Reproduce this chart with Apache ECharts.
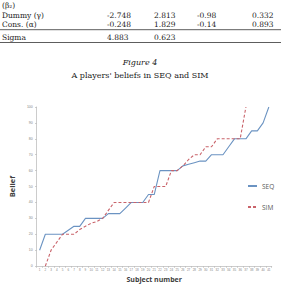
<!DOCTYPE html>
<html>
<head>
<meta charset="utf-8">
<script src="https://cdn.jsdelivr.net/npm/echarts@6/dist/echarts.min.js"></script>
<style>
  html, body { margin: 0; padding: 0; background: #fff; }
  #chart { width: 281px; height: 288px; }
</style>
</head>
<body>
<div id="chart"></div>
<script>
// subjects on the x axis
const subjects = ['1','2','3','4','5','6','7','8','9','10','11','12','13','14','15','16','17','18','19','20',
  '21','22','23','24','25','26','27','28','29','30','31','32','33','34','35','36','37','38','39','40','41'];

// beliefs
const seqBelief = [10,20,20,20,20,22.5,25,25,30,30,30,30,33,33,33,36.5,40,40,40,45,45,60,60,60,60,63,64,65,66,66,70,70,70,75,80,80,80,85,85,90,100];
const simBelief = [null,0,10,15,20,20,20,23,25,27,28,30,35,40,40,40,40,40,40,40,50,50,50,60,60,63,67,70,70,75,75,80,80,80,80,80,100,null,null,null,null];

// table rows above the figure
const tableRows = [
  ['Dummy (γ)', '-2.748', '2.813', '-0.98', '0.332'],
  ['Cons. (α)', '-0.248', '1.829', '-0.14', '0.893'],
  ['Sigma', '4.883', '0.623', '', '']
];

const chart = echarts.init(document.getElementById('chart'), null, { renderer: 'svg' });

const serif = 'DejaVu Serif';
const colX = [2, 107, 154, 197, 252];
const rowY = [15.5, 24, 37];

// build table text
let graphics = [];
graphics.push({ type: 'text', left: 2, top: 1, style: { text: '(β₂)', font: '7.5px ' + serif, fill: '#222' } });
tableRows.forEach((row, r) => {
  row.forEach((cell, c) => {
    if (!cell) return;
    graphics.push({
      type: 'text', x: colX[c], y: rowY[r],
      style: { text: cell, font: '7.5px ' + serif, fill: '#222', textVerticalAlign: 'middle' }
    });
  });
});
graphics.push({ type: 'line', shape: { x1: 0, y1: 29.7, x2: 281, y2: 29.7 }, style: { stroke: '#333', lineWidth: 0.8 } });
graphics.push({ type: 'line', shape: { x1: 0, y1: 42.5, x2: 281, y2: 42.5 }, style: { stroke: '#333', lineWidth: 0.8 } });
graphics.push({ type: 'text', x: 140, y: 62, style: { text: 'Figure 4', font: 'italic 8px ' + serif, fill: '#222', textAlign: 'center', textVerticalAlign: 'middle' } });
graphics.push({ type: 'text', x: 140, y: 75, style: { text: "A players' beliefs in SEQ and SIM", font: '8px ' + serif, fill: '#222', textAlign: 'center', textVerticalAlign: 'middle' } });

chart.setOption({
  backgroundColor: '#ffffff',
  animation: false,
  graphic: graphics,
  grid: { left: 27.7, right: 9.3, top: 107, bottom: 14 },
  legend: {
    orient: 'vertical',
    left: 242,
    top: 177.5,
    itemGap: 14,
    itemWidth: 9,
    itemHeight: 8,
    itemStyle: { opacity: 0 },
    textStyle: { fontSize: 6.5, color: '#595959', fontFamily: 'Open Sans' },
    data: ['SEQ', 'SIM']
  },
  xAxis: {
    type: 'category',
    data: subjects,
    boundaryGap: true,
    name: 'Subject number',
    nameLocation: 'middle',
    nameGap: 9,
    nameTextStyle: { fontSize: 7, fontWeight: 'bold', color: '#404040', fontFamily: 'Open Sans' },
    axisLine: { lineStyle: { color: '#bfbfbf', width: 0.8 } },
    axisTick: { show: true, length: 1.5, lineStyle: { color: '#bfbfbf' } },
    axisLabel: { interval: 0, fontSize: 3, color: '#7f7f7f', margin: 2 }
  },
  yAxis: {
    type: 'value',
    min: 0,
    max: 100,
    interval: 10,
    name: 'Belief',
    nameLocation: 'middle',
    nameGap: 13,
    nameTextStyle: { fontSize: 7.5, fontWeight: 'bold', color: '#404040', fontFamily: 'Open Sans' },
    splitLine: { show: false },
    axisLine: { show: true, lineStyle: { color: '#bfbfbf', width: 0.8 } },
    axisTick: { show: true, length: 1.5, lineStyle: { color: '#bfbfbf' } },
    axisLabel: { fontSize: 3.5, color: '#7f7f7f', margin: 4 }
  },
  series: [
    {
      name: 'SEQ',
      type: 'line',
      data: seqBelief,
      symbol: 'none',
      lineStyle: { color: '#6b93c2', width: 1.1 },
      itemStyle: { color: '#6b93c2' }
    },
    {
      name: 'SIM',
      type: 'line',
      data: simBelief,
      symbol: 'none',
      lineStyle: { color: '#c9636a', width: 1.1, type: [3, 2] },
      itemStyle: { color: '#c9636a' }
    }
  ]
});
</script>
</body>
</html>
